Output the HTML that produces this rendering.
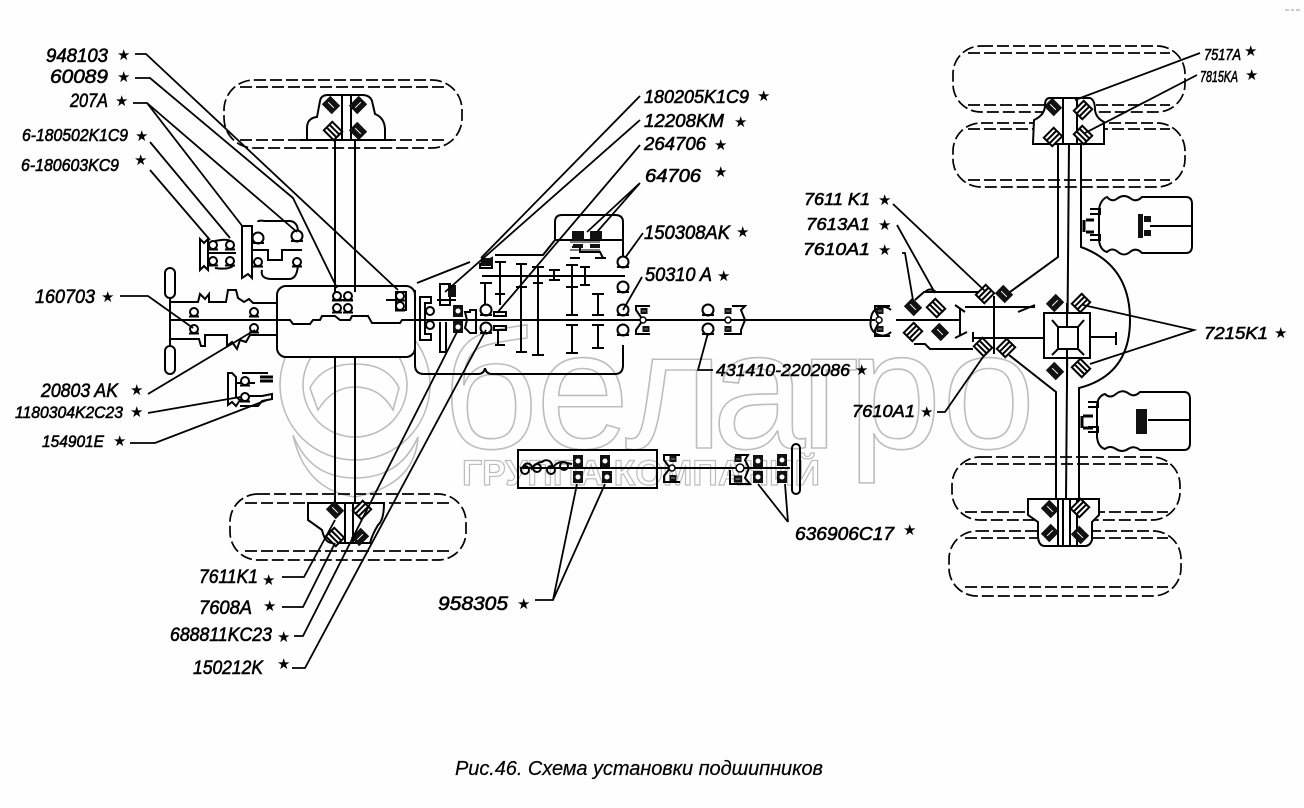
<!DOCTYPE html>
<html><head><meta charset="utf-8"><style>
html,body{margin:0;padding:0;background:#fdfefd}
svg{display:block}
.l{font-family:"Liberation Sans",sans-serif;font-style:italic;font-size:19px;fill:#000;stroke:#000;stroke-width:.6}
.s{font-family:"DejaVu Sans",sans-serif;font-size:15px;fill:#000}
.w{font-family:"Liberation Sans",sans-serif;fill:none;stroke:#bdbdbd;stroke-width:1.6}
.k{fill:none;stroke:#000;stroke-width:2}
.t{fill:none;stroke:#000;stroke-width:1.8}
.d{fill:none;stroke:#000;stroke-width:1.7;stroke-dasharray:12 4}
</style></head><body>
<svg width="1304" height="808" viewBox="0 0 1304 808" xmlns="http://www.w3.org/2000/svg">
<defs>
<g id="h"><rect x="-7" y="-6" width="14" height="12" fill="#fff" stroke="#000" stroke-width="2"/><path d="M-7-2H7M-7 2H7" stroke="#000" stroke-width="2"/></g>
<g id="f"><rect x="-7" y="-6" width="14" height="12" fill="#111"/><path d="M-4 0H4" stroke="#fff"/></g>
<g id="c"><circle r="4" fill="#fff" stroke="#000" stroke-width="2"/><path d="M-5 4.500H5" stroke="#000" stroke-width="2"/></g>
<g id="o"><circle r="5.500" fill="#fff" stroke="#000" stroke-width="2"/><path d="M-6 5H6" stroke="#000" stroke-width="2"/></g>
<g id="q"><rect x="-5" y="-6" width="10" height="12" fill="#111"/><circle r="2.500" fill="#fff"/></g>
</defs>
<rect width="1304" height="808" fill="#fdfefd"/>
<path d="M1285 10h4M1291 10h3M1296 10h4" stroke="#999" stroke-width="1"/>

<!-- watermark -->
<g fill="none" stroke="#bdbdbd" stroke-width="1.600">
<circle cx="355" cy="385" r="75"/><circle cx="355" cy="385" r="52"/>
<path d="M310 388Q322 364 355 364Q388 364 399 388L393 410Q380 387 355 387Q332 387 318 410Z"/>
<path d="M293 435Q310 478 355 478Q400 478 418 437Q415 485 355 497Q305 490 293 435Z"/>
</g>
<text class="w" x="442 536 625 712 800 848 942" y="448" font-size="168">белагро</text>
<text class="w" x="462" y="485" font-size="35" font-weight="bold" textLength="358" lengthAdjust="spacingAndGlyphs" style="stroke-width:1.200">ГРУППА КОМПАНИЙ</text>

<!-- tires -->
<g class="d">
<rect x="224" y="80" width="238" height="68" rx="30"/><path d="M240 87H445M240 140H445"/>
<rect x="230" y="494" width="236" height="66" rx="28"/><path d="M245 503H450M245 551H450"/>
<rect x="953" y="46" width="232" height="66" rx="28"/><path d="M968 53H1170M968 105H1170"/>
<rect x="953" y="123" width="232" height="64" rx="28"/><path d="M968 129H1170M968 180H1170"/>
<rect x="952" y="457" width="228" height="63" rx="28"/><path d="M965 464H1168M965 512H1168"/>
<rect x="949" y="531" width="232" height="65" rx="28"/><path d="M965 538H1168M965 587H1168"/>
</g>

<!-- front axle -->
<g class="k">
<path d="M307 140V128Q307 118 317 117L320 101Q321 95 328 95H362Q370 95 372 101L375 114Q385 118 385 130V140" fill="#fdfefd"/>
<path d="M300 140H392"/>
<path d="M342 96V140M351 96V140M335 140V286M355 140V286M335 357V505M355 357V505"/>
<path d="M308 503V520L322 530Q325 543 332 543H370Q372 535 378 525Q384 520 384 503H308Z" fill="#fdfefd"/>
<path d="M345 503V543M353 503V543"/>
</g>
<use href="#f" transform="translate(331 105) rotate(45)"/><use href="#f" transform="translate(358 105) rotate(-45)"/>
<use href="#h" transform="translate(333 131) rotate(45)"/><use href="#f" transform="translate(358 131) rotate(45)"/>
<use href="#f" transform="translate(335 510) rotate(45)"/><use href="#h" transform="translate(362 510) rotate(-45)"/>
<use href="#h" transform="translate(335 537) rotate(45)"/><use href="#f" transform="translate(360 537) rotate(-45)"/>

<!-- engine box -->
<g class="k">
<rect x="277" y="286" width="138" height="71" rx="9" fill="#fdfefd"/>
<path d="M277 320H290L293 324H310L313 320H320L322 316H335L340 320H350L352 316H368L372 323H400L402 320H415"/>
<path d="M332 300H353M386 300H400M396 292H406V310H396Z"/>
<path d="M335 286V292M355 286V292"/>
<path d="M170 298V346M170 320H277M170 302H198L200 294L205 299L209 294V302H226L228 290H236L238 298L244 302L249 299L253 303H277M170 339H199L201 346H205V335H227V346L232 342L237 349L240 340L246 342L250 335H277"/>
<rect x="165" y="268" width="10" height="30" rx="5"/><rect x="165" y="346" width="10" height="28" rx="5"/>
</g>
<use href="#c" transform="translate(337 296)"/><use href="#c" transform="translate(348 296)"/>
<use href="#c" transform="translate(337 308)"/><use href="#c" transform="translate(348 308)"/>
<use href="#c" transform="translate(400 296)"/><use href="#c" transform="translate(400 306)"/>
<use href="#c" transform="translate(194 312)"/><use href="#c" transform="translate(254 312)"/>
<use href="#c" transform="translate(194 329)"/><use href="#c" transform="translate(254 328)"/>

<!-- pump groups -->
<g class="k">
<path d="M200 239V270L204 266L208 270V239L204 243ZM208 253H236M215 241Q228 238 232 242M215 268Q228 270 233 266"/>
<path d="M242 226V278L248 274L252 278V226ZM252 250H268V260H282V250H302M258 222Q258 220 265 221H290Q298 222 298 232M262 270Q260 279 272 279H290Q298 278 298 262"/>
<path d="M228 373V405L232 402L236 406L240 400L236 397V377L232 373ZM236 383H255M242 373H268M245 396H262M262 396L272 394V399L262 401L258 406H240"/>
<path d="M260 377H273M260 381H273" stroke-width="3"/>
</g>
<use href="#c" transform="translate(213 245)"/><use href="#c" transform="translate(230 245)"/><use href="#c" transform="translate(213 261)"/><use href="#c" transform="translate(230 261)"/>
<use href="#o" transform="translate(258 238)"/><use href="#o" transform="translate(297 236)"/><use href="#c" transform="translate(258 262)"/><use href="#c" transform="translate(297 262)"/>
<use href="#c" transform="translate(245 381)"/><use href="#c" transform="translate(245 397)"/>

<!-- transmission -->
<g class="k">
<path d="M417 283L470 262M415 290V365Q415 374 424 374H478Q484 374 485 368M485 368Q486 374 492 374H615Q623 374 623 365V345M415 320H875"/>
<path d="M495 255H543L555 240V222Q555 215 562 215H615Q623 215 623 222V260M555 240H623"/>
<path d="M482 276H625"/>
<path d="M420 297H431V303H425V334H431V340H420Z"/>
<path d="M440 322V352H446V322M440 284H450V305H440ZM437 300H456"/>
<path d="M470 312H465L467 320L465 328L470 333H476V310H470Z"/>
<path d="M480 283H492M485 283V308M480 264L492 258V268H480Z"/>
<path d="M494 312H506V316H494ZM494 326H506V330H494ZM498 330V345M495 345H505"/>
<path d="M500 262V305M495 262H506M495 294H505M521 264V352M516 264H527M516 352H527M516 287H527M538 267V355M532 355H544M532 267H544M533 283H543M554 270V280M549 270H560M549 280H560M572 265V315M566 265H578M566 315H578M566 287H578M572 325V353M566 325H578M566 353H578M585 267V285M580 267H590M580 285H590M598 294V315M592 294H604M592 315H604M598 325V348M592 325H604M592 348H604"/>
<path d="M572 247H580V252H600L603 258M570 258H580M595 258H606"/>
<path d="M570 242H600M570 250H600" stroke-width="1"/>
</g>
<path d="M572 231h12v10h-12zM590 231h12v9h-12zM573 244h10v4h-10zM590 244h10v4h-10z" fill="#111"/>
<path d="M481 258h12v8h-12zM448 285h8v12h-8z" fill="#111"/>
<circle cx="430" cy="311" r="4" class="k"/><circle cx="430" cy="325" r="4" class="k"/>
<use href="#q" transform="translate(458 311)"/><use href="#q" transform="translate(458 327)"/>
<use href="#o" transform="translate(486 310)"/><use href="#o" transform="translate(486 328)"/>
<use href="#o" transform="translate(623 262)"/><use href="#o" transform="translate(623 287)"/><use href="#o" transform="translate(623 310)"/><use href="#o" transform="translate(623 330)"/>

<!-- universal joints -->
<g class="k">
<path d="M650 306H636V310L643 320L636 330V334H650M732 306H745L741 310L745 320L741 330V334H724M890 306H875V310L880 320L875 330V336H890"/>
<path d="M871 320A12 12 0 0 1 891 310M871 320A12 12 0 0 0 891 332"/>
</g>
<use href="#f" transform="translate(644 311) scale(.5)"/><use href="#f" transform="translate(646 329) scale(.5)"/>
<use href="#f" transform="translate(728 311) scale(.5)"/><use href="#f" transform="translate(728 329) scale(.5)"/>
<use href="#f" transform="translate(880 311) scale(.5)"/><use href="#f" transform="translate(880 329) scale(.5)"/>
<circle cx="643" cy="320" r="3" fill="#fff" stroke="#000" stroke-width="1.500"/><circle cx="728" cy="320" r="3" fill="#fff" stroke="#000" stroke-width="1.500"/><circle cx="879" cy="320" r="3" fill="#fff" stroke="#000" stroke-width="1.500"/>
<use href="#o" transform="translate(708 310)"/><use href="#o" transform="translate(708 329)"/>

<!-- lower pump -->
<g class="k">
<rect x="518" y="450" width="139" height="38"/>
<path d="M520 468H790"/>
<path d="M523 468A4 4 0 0 1 532 468Q537 462 542 462A6 6 0 0 1 552 468Q557 462 562 462L572 464"/>
<path d="M680 455H664V460L670 468L664 476V482H680M735 455H748L745 460L749 468L745 478L750 484H730V470"/>
<rect x="792" y="444" width="8" height="50" rx="4"/>
</g>
<circle cx="525" cy="470" r="4" class="k"/><circle cx="537" cy="468" r="4" class="k"/><circle cx="551" cy="470" r="4" class="k"/><circle cx="564" cy="466" r="4" class="k"/>
<use href="#q" transform="translate(578 461)"/><use href="#q" transform="translate(578 477)"/><use href="#q" transform="translate(605 461)"/><use href="#q" transform="translate(607 477)"/>
<use href="#q" transform="translate(758 461)"/><use href="#q" transform="translate(758 477)"/><use href="#q" transform="translate(782 460)"/><use href="#q" transform="translate(782 477)"/>
<circle cx="672" cy="468" r="3" fill="#fff" stroke="#000" stroke-width="1.500"/><circle cx="740" cy="468" r="4" fill="#fff" stroke="#000" stroke-width="1.500"/>
<use href="#f" transform="translate(673 459) scale(.5)"/><use href="#f" transform="translate(673 478) scale(.5)"/><use href="#f" transform="translate(738 459) scale(.5)"/><use href="#f" transform="translate(738 479) scale(.6)"/>

<!-- rear axle -->
<g class="k">
<path d="M1033 143L1034 120Q1045 115 1045 105Q1045 98 1050 98H1090Q1095 100 1095 110Q1096 118 1104 122V144H1033Z" fill="#fdfefd"/>
<path d="M1063 98V144M1077 98V144"/>
<path d="M1028 499H1099V515L1092 522V540Q1090 546 1085 546H1045Q1038 546 1038 535V522L1028 515Z" fill="#fdfefd"/>
<path d="M1058 499V546M1063 499V546M1070 499V546M1077 499V546"/>
<path d="M1058 144V257L1010 292M1069 144L1066 499M1081 144V247Q1130 265 1130 320Q1130 375 1079 388V499M1009 355L1056 392V499"/>
<path d="M1044 313H1090V358H1044Z" fill="#fdfefd"/>
<rect x="1058" y="327" width="20" height="22"/>
<path d="M1052 320L1058 327M1084 320L1078 327M1052 355L1058 349M1084 355L1078 349"/>
<path d="M1090 337H1116M1116 332V345M1067 303V327M1067 349V388"/>
<path d="M994 296V354M955 305L965 312M965 307H1035M1035 305L1018 312M973 338H1044M973 332V342M960 308V335M896 320H960M955 338L967 332"/>
<path d="M915 300L924 292H980M925 292Q930 287 936 292M914 344H925L930 349H973"/>
</g>
<use href="#h" transform="translate(985 294) rotate(-45)"/><use href="#f" transform="translate(1004 294) rotate(45)"/>
<use href="#f" transform="translate(913 307) rotate(45)"/><use href="#h" transform="translate(936 308) rotate(45)"/>
<use href="#h" transform="translate(913 332) rotate(-45)"/><use href="#f" transform="translate(940 332) rotate(45)"/>
<use href="#h" transform="translate(983 347) rotate(45)"/><use href="#h" transform="translate(1006 348) rotate(-45)"/>
<use href="#f" transform="translate(1055 303) rotate(-45)"/><use href="#h" transform="translate(1081 303) rotate(-45)"/>
<use href="#f" transform="translate(1055 371) rotate(45)"/><use href="#h" transform="translate(1081 368) rotate(45)"/>
<use href="#f" transform="translate(1053 107) rotate(45)"/><use href="#h" transform="translate(1083 110) rotate(-45)"/>
<use href="#h" transform="translate(1053 137) rotate(-45)"/><use href="#h" transform="translate(1083 135) rotate(45)"/>
<use href="#f" transform="translate(1050 509) rotate(45)"/><use href="#h" transform="translate(1080 508) rotate(-45)"/>
<use href="#f" transform="translate(1050 533) rotate(-45)"/><use href="#f" transform="translate(1080 535) rotate(45)"/>

<!-- rear chambers -->
<g class="k">
<path d="M1107 197Q1112 203 1118 198Q1124 194 1130 198Q1136 203 1142 197H1186Q1192 197 1192 204V246Q1192 253 1186 253H1142Q1136 247 1130 252Q1124 257 1118 252Q1112 247 1107 252Q1100 250 1099 240V210Q1100 200 1107 197Z"/>
<path d="M1150 226H1192M1090 209H1100V214H1090M1090 240H1100V235H1090"/>
<path d="M1105 394Q1110 399 1116 394Q1122 389 1128 393Q1134 398 1140 392H1184Q1190 392 1190 399V443Q1190 450 1184 450H1140Q1134 445 1128 449Q1122 453 1116 449Q1110 445 1105 449Q1098 447 1097 437V405Q1098 396 1105 394Z"/>
<path d="M1148 420H1190M1088 402H1098V407H1088M1088 432H1098V427H1088"/>
</g>
<path d="M1138 214h5v24h-5zM1144 216h7v6h-7zM1144 230h7v6h-7zM1136 409h11v25h-11z" fill="#111"/>
<path d="M1086 220h8M1086 232h8M1084 220v12M1083 416h10M1083 428h10M1082 416v12" stroke="#000" stroke-width="3" fill="none"/>

<!-- leaders -->
<g class="t">
<path d="M135 54H146L398 290"/>
<path d="M135 78H150L293 198L337 288"/>
<path d="M133 103H147L243 227M147 103L297 232"/>
<path d="M150 142L230 238"/>
<path d="M150 170L210 240"/>
<path d="M120 296H148L193 328"/>
<path d="M148 394L255 330"/>
<path d="M148 413L240 397"/>
<path d="M130 443H155L267 400"/>
<path d="M282 577H304L335 520"/>
<path d="M282 607H303L335 543"/>
<path d="M294 636H303L458 330"/>
<path d="M292 668H305L486 330"/>
<path d="M640 96L481 258"/>
<path d="M640 120L445 292"/>
<path d="M640 145L497 313"/>
<path d="M640 183L587 232M640 183L597 232"/>
<path d="M643 233L625 258"/>
<path d="M642 277L623 310"/>
<path d="M713 370H698L708 333"/>
<path d="M535 600H553L577 484M553 600L605 484"/>
<path d="M788 522L758 484M788 522L785 484"/>
<path d="M893 204L985 291M897 225L935 293M902 253H905L913 300"/>
<path d="M937 412H945L983 357"/>
<path d="M1200 53L1075 100M1197 75L1085 133"/>
<path d="M1083 305L1194 330L1090 364"/>
</g>

<!-- labels -->
<g class="l">
<text x="46" y="62" textLength="62" lengthAdjust="spacingAndGlyphs">948103</text>
<text x="50" y="83" textLength="58" lengthAdjust="spacingAndGlyphs">60089</text>
<text x="70" y="107" textLength="38" lengthAdjust="spacingAndGlyphs">207A</text>
<text x="22" y="141" style="font-size:17.500px" textLength="106" lengthAdjust="spacingAndGlyphs">6-180502K1C9</text>
<text x="21" y="171" style="font-size:17.500px" textLength="98" lengthAdjust="spacingAndGlyphs">6-180603KC9</text>
<text x="35" y="303" textLength="60" lengthAdjust="spacingAndGlyphs">160703</text>
<text x="41" y="397" textLength="77" lengthAdjust="spacingAndGlyphs">20803 AK</text>
<text x="15" y="418" style="font-size:17px" textLength="108" lengthAdjust="spacingAndGlyphs">1180304K2C23</text>
<text x="42" y="447" style="font-size:17px" textLength="62" lengthAdjust="spacingAndGlyphs">154901E</text>
<text x="199" y="583" textLength="59" lengthAdjust="spacingAndGlyphs">7611K1</text>
<text x="199" y="614" textLength="53" lengthAdjust="spacingAndGlyphs">7608A</text>
<text x="170" y="641" textLength="102" lengthAdjust="spacingAndGlyphs">688811KC23</text>
<text x="193" y="674" textLength="70" lengthAdjust="spacingAndGlyphs">150212K</text>
<text x="644" y="103" style="font-size:18px" textLength="105" lengthAdjust="spacingAndGlyphs">180205K1C9</text>
<text x="644" y="127" style="font-size:18px" textLength="80" lengthAdjust="spacingAndGlyphs">12208KM</text>
<text x="644" y="150" style="font-size:18px" textLength="62" lengthAdjust="spacingAndGlyphs">264706</text>
<text x="645" y="182" style="font-size:18px" textLength="56" lengthAdjust="spacingAndGlyphs">64706</text>
<text x="644" y="239" textLength="86" lengthAdjust="spacingAndGlyphs">150308AK</text>
<text x="645" y="281" textLength="67" lengthAdjust="spacingAndGlyphs">50310 A</text>
<text x="716" y="376" style="font-size:17.500px" textLength="134" lengthAdjust="spacingAndGlyphs">431410-2202086</text>
<text x="438" y="610" textLength="70" lengthAdjust="spacingAndGlyphs">958305</text>
<text x="795" y="540" style="font-size:18px" textLength="99" lengthAdjust="spacingAndGlyphs">636906C17</text>
<text x="804" y="205" style="font-size:17.500px" textLength="66" lengthAdjust="spacingAndGlyphs">7611 K1</text>
<text x="806" y="230" style="font-size:17.500px" textLength="64" lengthAdjust="spacingAndGlyphs">7613A1</text>
<text x="803" y="255" style="font-size:17.500px" textLength="67" lengthAdjust="spacingAndGlyphs">7610A1</text>
<text x="852" y="417" style="font-size:17.500px" textLength="63" lengthAdjust="spacingAndGlyphs">7610A1</text>
<text x="1204" y="60" style="font-size:16px" textLength="37" lengthAdjust="spacingAndGlyphs">7517A</text>
<text x="1200" y="82" style="font-size:16px" textLength="38" lengthAdjust="spacingAndGlyphs">7815KA</text>
<text x="1204" y="339" style="font-size:17.500px" textLength="64" lengthAdjust="spacingAndGlyphs">7215K1</text>
<text x="455" y="775" style="font-size:20px;stroke-width:.2" textLength="368" lengthAdjust="spacing">Рис.46. Схема установки подшипников</text>
</g>
<g class="s">
<text x="117" y="60">★</text><text x="117" y="82">★</text><text x="115" y="106">★</text><text x="135" y="141">★</text><text x="134" y="165">★</text>
<text x="101" y="302">★</text><text x="130" y="395">★</text><text x="130" y="417">★</text><text x="113" y="446">★</text>
<text x="262" y="585">★</text><text x="263" y="611">★</text><text x="277" y="642">★</text><text x="277" y="669">★</text>
<text x="757" y="101">★</text><text x="734" y="127">★</text><text x="714" y="150">★</text><text x="714" y="177">★</text><text x="736" y="237">★</text><text x="717" y="281">★</text>
<text x="855" y="375">★</text><text x="517" y="609">★</text><text x="903" y="535">★</text>
<text x="878" y="205">★</text><text x="878" y="230">★</text><text x="878" y="255">★</text><text x="920" y="417">★</text>
<text x="1244" y="56">★</text><text x="1245" y="80">★</text><text x="1274" y="338">★</text>
</g>
</svg>
</body></html>
